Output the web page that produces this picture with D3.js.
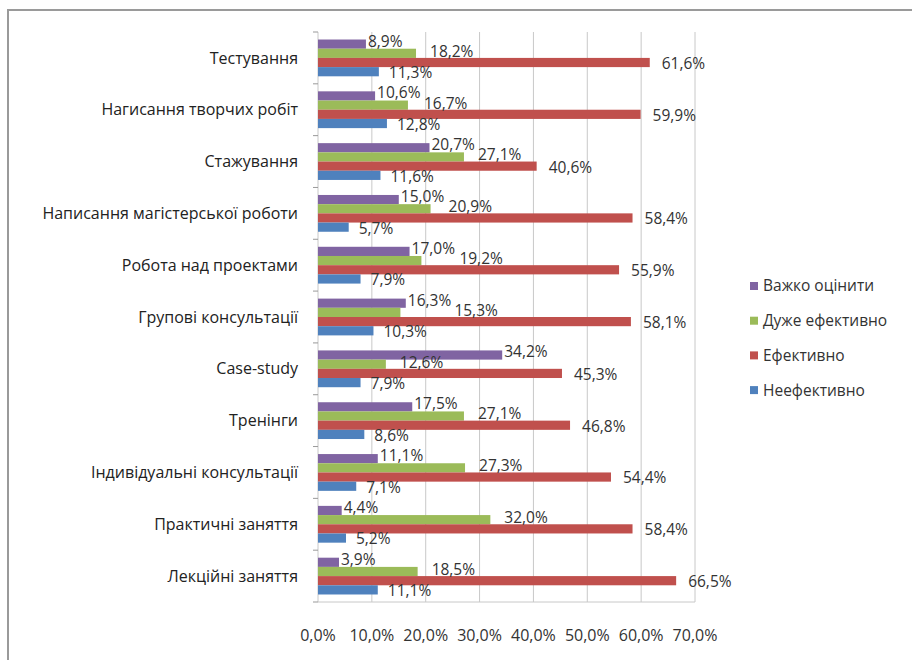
<!DOCTYPE html>
<html><head><meta charset="utf-8">
<script src="https://cdn.jsdelivr.net/npm/d3@7"></script>
<style>body{margin:0;background:#fff;}svg{display:block;font-family:"Open Sans",Lato,sans-serif;}</style>
</head><body>
<svg id="c" width="912" height="660"></svg>
<script>
const categories = ["Тестування","Нагисання творчих робіт","Стажування","Написання магістерської роботи","Робота над проектами","Групові консультації","Case-study","Тренінги","Індивідуальні консультації","Практичні заняття","Лекційні заняття"];
const seriesNames = ["Важко оцінити","Дуже ефективно","Ефективно","Неефективно"];
const hardToSay   = [8.9,10.6,20.7,15.0,17.0,16.3,34.2,17.5,11.1,4.4,3.9];
const veryEffective = [18.2,16.7,27.1,20.9,19.2,15.3,12.6,27.1,27.3,32.0,18.5];
const effective   = [61.6,59.9,40.6,58.4,55.9,58.1,45.3,46.8,54.4,58.4,66.5];
const ineffective = [11.3,12.8,11.6,5.7,7.9,10.3,7.9,8.6,7.1,5.2,11.1];
const xTicks = [0,10,20,30,40,50,60,70];
const colors = ["#8064A2","#9BBB59","#C0504D","#4F81BD"];
const seriesValues = [hardToSay, veryEffective, effective, ineffective];

const svg = d3.select("#c");
// outer frame
svg.append("rect").attr("x",8).attr("y",10).attr("width",920).attr("height",700)
  .attr("fill","none").attr("stroke","#9a9a9a").attr("stroke-width",2);

const L=318, R=695, T=32, B=602;
const x = d3.scaleLinear().domain([0,70]).range([L,R]);
const y = d3.scaleBand().domain(categories).range([T,B]).paddingInner(0.29).paddingOuter(0.145);
const ys = d3.scaleBand().domain(seriesNames).range([0,y.bandwidth()]);

// gridlines
svg.append("g").selectAll("line").data(xTicks).join("line")
  .attr("x1",d=>x(d)).attr("x2",d=>x(d)).attr("y1",T).attr("y2",B)
  .attr("stroke","#c8c8c8").attr("stroke-width",1);
svg.append("line").attr("x1",L).attr("x2",R).attr("y1",B).attr("y2",B).attr("stroke","#c8c8c8");

// category ticks
const band = (B-T)/categories.length;
svg.append("g").selectAll("line").data(d3.range(categories.length+1)).join("line")
  .attr("x1",L-5).attr("x2",L).attr("y1",i=>T+i*band).attr("y2",i=>T+i*band)
  .attr("stroke","#999");

// bars
const rows = [];
categories.forEach((c,ci)=>seriesNames.forEach((s,si)=>rows.push({s,si,c,v:seriesValues[si][ci]})));
svg.append("g").selectAll("rect").data(rows).join("rect")
  .attr("x",x(0)).attr("y",d=>y(d.c)+ys(d.s))
  .attr("width",d=>x(d.v)-x(0)).attr("height",ys.bandwidth())
  .attr("fill",d=>colors[d.si]);

// data labels with simple collision avoidance within a group (shift right)
const dxs=[2,14,12,10], dys=[-3,-2,1,1];
const labels = svg.append("g").selectAll("text").data(rows).join("text")
  .attr("x",d=>x(d.v)+dxs[d.si])
  .attr("y",d=>y(d.c)+ys(d.s)+ys.bandwidth()/2+dys[d.si])
  .attr("dy","0.35em").attr("font-size",15.5).attr("fill","#333")
  .text(d=>d.v.toFixed(1).replace(".",",")+"%");
const placed=[];
labels.each(function(d){
  const w=this.getComputedTextLength();
  const cy=+this.getAttribute("y");
  let x0=+this.getAttribute("x");
  for(let k=0;k<40;k++){
    const hit=placed.some(p=>Math.abs(p.cy-cy)<19 && x0< p.x1+3 && x0+w+3>p.x0);
    if(!hit) break;
    x0+=2;
  }
  this.setAttribute("x",x0);
  placed.push({x0,x1:x0+w,cy});
});

// category labels
svg.append("g").selectAll("text").data(categories).join("text")
  .attr("x",298).attr("y",d=>y(d)+y.bandwidth()/2).attr("dy","0.35em")
  .attr("text-anchor","end").attr("font-size",16).attr("fill","#222").text(d=>d);

// x axis labels
svg.append("g").selectAll("text").data(xTicks).join("text")
  .attr("x",d=>x(d)).attr("y",635).attr("dy","0.35em").attr("text-anchor","middle")
  .attr("font-size",16).attr("fill","#333").text(d=>d.toFixed(1).replace(".",",")+"%");

// legend
const lg = svg.append("g").selectAll("g").data(seriesNames).join("g")
  .attr("transform",(d,i)=>`translate(750,${286+i*34.7})`);
lg.append("rect").attr("x",0).attr("y",-4).attr("width",8).attr("height",8).attr("fill",(d,i)=>colors[i]);
lg.append("text").attr("x",13).attr("dy","0.35em").attr("font-size",15.5).attr("fill","#333").text(d=>d);
</script>
</body></html>
